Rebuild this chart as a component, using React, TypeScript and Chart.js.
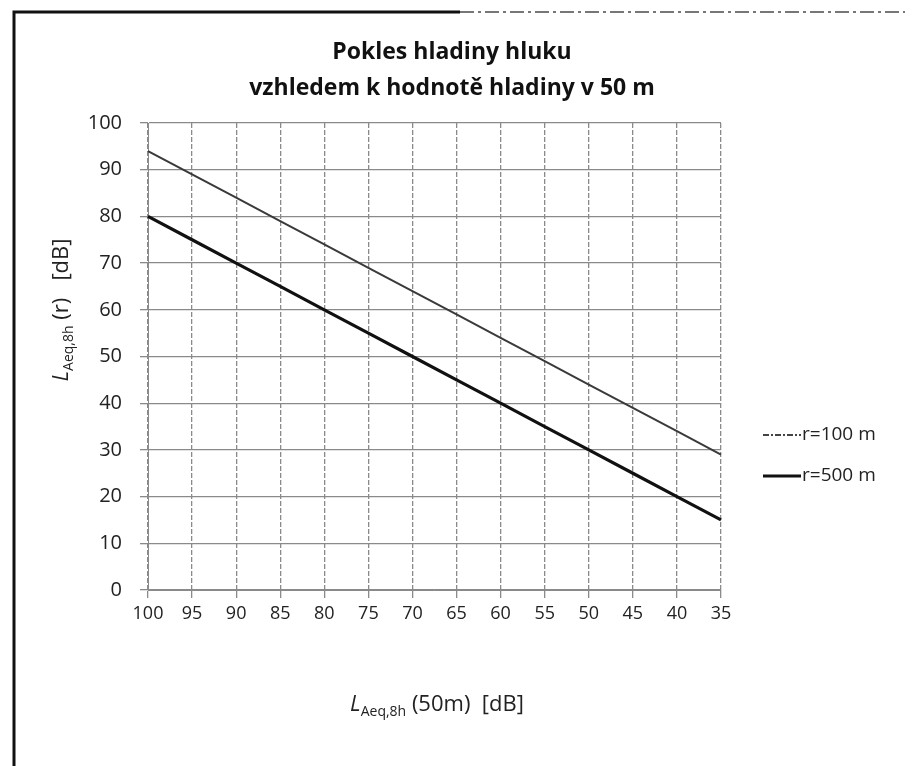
import React, { useEffect, useRef } from "react";
import { Chart, registerables } from "chart.js";

Chart.register(...registerables);

const categories = ["100", "95", "90", "85", "80", "75", "70", "65", "60", "55", "50", "45", "40", "35"];
const r100Values = [94, 89, 84, 79, 74, 69, 64, 59, 54, 49, 44, 39, 34, 29];
const r500Values = [80, 75, 70, 65, 60, 55, 50, 45, 40, 35, 30, 25, 20, 15];
const seriesNames = ["r=100 m", "r=500 m"];
const titleLines = ["Pokles hladiny hluku", "vzhledem k hodnotě hladiny v 50 m"];
const yMin = 0;
const yMax = 100;
const yStep = 10;

const FONT = "'Open Sans', 'Noto Sans', sans-serif";

type Seg = { text: string; font: string; dy: number };

function drawSegs(ctx: CanvasRenderingContext2D, segs: Seg[], cx: number, cy: number) {
  let total = 0;
  const widths = segs.map((s) => {
    ctx.font = s.font;
    const w = ctx.measureText(s.text).width;
    total += w;
    return w;
  });
  let x = cx - total / 2;
  segs.forEach((s, i) => {
    ctx.font = s.font;
    ctx.fillText(s.text, x, cy + s.dy);
    x += widths[i];
  });
}

const decorPlugin = {
  id: "decor",
  afterDraw(chart: any) {
    const ctx: CanvasRenderingContext2D = chart.ctx;
    ctx.save();
    // frame
    ctx.strokeStyle = "#111";
    ctx.lineWidth = 3;
    ctx.beginPath();
    ctx.moveTo(14, 766);
    ctx.lineTo(14, 12);
    ctx.lineTo(460, 12);
    ctx.stroke();
    ctx.strokeStyle = "#777";
    ctx.lineWidth = 2;
    ctx.setLineDash([14, 4, 3, 4]);
    ctx.beginPath();
    ctx.moveTo(460, 12);
    ctx.lineTo(905, 12);
    ctx.stroke();
    ctx.setLineDash([]);

    // title
    ctx.fillStyle = "#111";
    ctx.textAlign = "center";
    ctx.textBaseline = "middle";
    ctx.font = `bold 23px ${FONT}`;
    ctx.fillText(titleLines[0], 452, 52);
    ctx.fillText(titleLines[1], 452, 88);

    // axis titles
    ctx.textAlign = "left";
    ctx.textBaseline = "middle";
    const big = `22px ${FONT}`;
    const bigI = `italic 22px ${FONT}`;
    const sub = `14px ${FONT}`;
    ctx.fillStyle = "#222";
    drawSegs(
      ctx,
      [
        { text: "L", font: bigI, dy: 0 },
        { text: "Aeq,8h", font: sub, dy: 7 },
        { text: " (50m)  [dB]", font: big, dy: 0 },
      ],
      437,
      705
    );
    ctx.save();
    ctx.translate(62, 310);
    ctx.rotate(-Math.PI / 2);
    drawSegs(
      ctx,
      [
        { text: "L", font: bigI, dy: 0 },
        { text: "Aeq,8h", font: sub, dy: 7 },
        { text: " (r)   [dB]", font: big, dy: 0 },
      ],
      0,
      0
    );
    ctx.restore();

    // legend
    const items = [
      { y: 435, color: "#444", width: 2, dash: [6, 2, 2, 2] },
      { y: 476, color: "#111", width: 3, dash: [] as number[] },
    ];
    items.forEach((it, i) => {
      ctx.strokeStyle = it.color;
      ctx.lineWidth = it.width;
      ctx.setLineDash(it.dash);
      ctx.beginPath();
      ctx.moveTo(763, it.y);
      ctx.lineTo(801, it.y);
      ctx.stroke();
      ctx.setLineDash([]);
      ctx.fillStyle = "#222";
      ctx.font = `19px ${FONT}`;
      ctx.textAlign = "left";
      ctx.textBaseline = "middle";
      ctx.fillText(seriesNames[i], 802, it.y);
    });
    ctx.restore();
  },
};

export default function App() {
  const ref = useRef<HTMLCanvasElement | null>(null);
  useEffect(() => {
    if (!ref.current) return;
    const chart = new Chart(ref.current, {
      type: "line",
      data: {
        labels: categories,
        datasets: [
          {
            label: seriesNames[0],
            data: r100Values,
            borderColor: "#3a3a3a",
            borderWidth: 2,
            pointRadius: 0,
            tension: 0,
          },
          {
            label: seriesNames[1],
            data: r500Values,
            borderColor: "#111",
            borderWidth: 3.2,
            pointRadius: 0,
            tension: 0,
          },
        ],
      },
      options: {
        responsive: false,
        animation: false,
        layout: { padding: { left: 0, right: 201, top: 123, bottom: 136 } },
        plugins: {
          legend: { display: false },
          title: { display: false },
          tooltip: { enabled: false },
        },
        scales: {
          x: {
            type: "category",
            offset: false,
            grid: {
              color: "#8a8a8a",
              lineWidth: 1.3,
              tickLength: 8,
              drawTicks: true,
            },
            border: { display: true, color: "#8a8a8a", dash: [5, 2] },
            ticks: {
              autoSkip: false,
              maxRotation: 0,
              padding: 5,
              color: "#222",
              font: { family: FONT, size: 18 },
            },
            afterFit: (s: any) => {
              s.height = 40;
            },
          },
          y: {
            min: yMin,
            max: yMax,
            grid: {
              color: "#8a8a8a",
              lineWidth: 1.3,
              tickLength: 8,
            },
            border: { display: true, color: "#8a8a8a" },
            ticks: {
              stepSize: yStep,
              padding: 18,
              color: "#222",
              font: { family: FONT, size: 20 },
            },
            afterFit: (s: any) => {
              s.width = 148;
            },
          },
        },
      },
      plugins: [decorPlugin],
    });
    return () => chart.destroy();
  }, []);
  return (
    <div style={{ position: "absolute", left: 0, top: 0, width: 922, height: 766, background: "#fff" }}>
      <canvas ref={ref} width={922} height={766} style={{ display: "block" }} />
    </div>
  );
}
